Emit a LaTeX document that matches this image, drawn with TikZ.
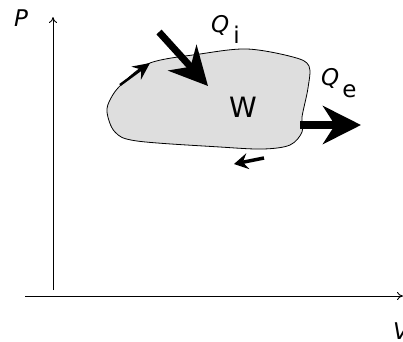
\documentclass[tikz,border=0pt]{standalone}
\usepackage{fontspec}
\setmainfont{DejaVu Sans}
\usetikzlibrary{arrows.meta}

\begin{document}
\begin{tikzpicture}[
  x=1pt, y=-1pt,
  axis/.style={-{To[length=6pt, width=8pt]}, line width=0.9pt},
  cycle/.style={draw=black, fill=black!13, line width=0.8pt},
  heat/.style={-{Stealth[length=38pt, width=38pt, inset=12pt]}},
  turn/.style={-{Stealth[length=17pt, width=16pt, inset=6pt]}},
  label/.style={font=\fontsize{23}{26}\selectfont, inner sep=0pt},
]
\useasboundingbox (0,0) rectangle (403,341);

% Axes
\coordinate (pbot) at (53,290);
\coordinate (ptop) at (53,17);
\coordinate (vleft) at (25,296);
\coordinate (vright) at (403,296);
\draw[axis] (pbot) -- (ptop);
\draw[axis] (vleft) -- (vright);

% Cycle
\draw[cycle] plot[smooth cycle, tension=0.55] coordinates {
  (107,112) (111,98) (122,84) (150,63) (200,54) (247,49) (293,57)
  (309,66) (308,88) (302,117) (302,132) (290,145) (263,149)
  (220,147) (137,141) (115,132)};

% Direction of the cycle
\coordinate (ua) at (120,85);
\coordinate (ub) at (150,63);
\coordinate (la) at (264,158);
\coordinate (lb) at (234,164);
\draw[turn, line width=2.5pt] (ua) -- (ub);
\draw[turn, line width=3.5pt, -{Stealth[length=14pt, width=16pt, inset=5pt]}] (la) -- (lb);

% Heat in and out
\coordinate (qia) at (159,32);
\coordinate (qib) at (208,86);
\coordinate (qea) at (300,125);
\coordinate (qeb) at (361,125);
\draw[heat, line width=7pt] (qia) -- (qib);
\draw[heat, line width=8pt] (qea) -- (qeb);

% Labels
\node[label, anchor=base] (p) at (21,26) {\itshape P};
\node[label, anchor=base west] (qi) at (211,32) {\itshape Q\hspace{4pt}\upshape\raisebox{-11pt}{i}};
\node[label, anchor=base west] (qe) at (321,85) {\itshape Q\hspace{3pt}\upshape\raisebox{-12pt}{e}};
\node[label, anchor=base, font=\fontsize{28}{31}\selectfont] (w) at (243,117) {W};
\node[label, anchor=base west] (v) at (393,339) {\itshape V};
\end{tikzpicture}
\end{document}
